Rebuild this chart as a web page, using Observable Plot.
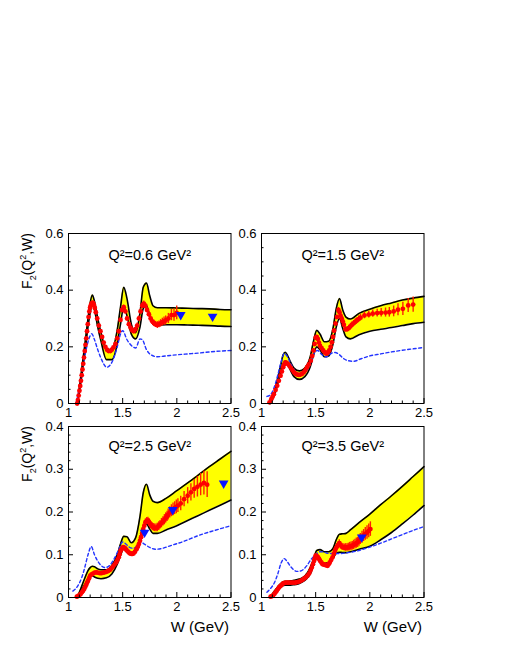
<!DOCTYPE html>
<html><head><meta charset="utf-8">
<script src="https://cdn.jsdelivr.net/npm/d3@7"></script>
<script src="https://cdn.jsdelivr.net/npm/@observablehq/plot@0.6"></script>
<style>
body{margin:0;background:#fff;}
#root{position:relative;width:507px;height:656px;overflow:hidden;font-family:"Liberation Sans",Arial,Helvetica,sans-serif;}
.lab{position:absolute;font-size:14px;color:#000;white-space:nowrap;line-height:1;}
.lab sub,.lab sup{font-size:9px;line-height:0;}
</style></head><body><div id="root"></div>
<script>
// ---------- tick labels ----------
const xTicks = [1, 1.5, 2, 2.5];
const xMinorTicks = [1.1,1.2,1.3,1.4,1.6,1.7,1.8,1.9,2.1,2.2,2.3,2.4];
const yTicksTop = [0, 0.2, 0.4, 0.6];
const yMinorTop = [0.05,0.1,0.15,0.25,0.3,0.35,0.45,0.5,0.55];
const yTicksBottom = [0, 0.1, 0.2, 0.3, 0.4];
const yMinorBottom = [0.02,0.04,0.06,0.08,0.12,0.14,0.16,0.18,0.22,0.24,0.26,0.28,0.32,0.34,0.36,0.38];
const titles = ["Q²=0.6 GeV²", "Q²=1.5 GeV²", "Q²=2.5 GeV²", "Q²=3.5 GeV²"];

// ---------- band (model uncertainty) ----------
const bandW = [1.08,1.10,1.12,1.15,1.18,1.20,1.22,1.24,1.27,1.30,1.35,1.40,1.45,1.48,1.51,1.54,1.58,1.62,1.66,1.69,1.72,1.75,1.78,1.82,1.90,2.00,2.10,2.20,2.30,2.40,2.50];
const q06Upper = [0,0.055,0.115,0.205,0.30,0.355,0.383,0.36,0.30,0.25,0.19,0.19,0.26,0.34,0.41,0.37,0.28,0.25,0.32,0.41,0.425,0.38,0.345,0.338,0.338,0.337,0.336,0.335,0.334,0.332,0.331];
const q06Lower = [0,0.04,0.09,0.175,0.27,0.32,0.35,0.33,0.27,0.22,0.155,0.155,0.21,0.28,0.34,0.31,0.245,0.228,0.27,0.335,0.345,0.31,0.28,0.277,0.278,0.278,0.277,0.276,0.275,0.273,0.272];
const q15Upper = [0,0.02,0.04,0.09,0.14,0.172,0.181,0.17,0.145,0.125,0.115,0.125,0.165,0.22,0.258,0.245,0.218,0.22,0.265,0.335,0.37,0.33,0.305,0.298,0.318,0.333,0.345,0.355,0.365,0.372,0.378];
const q15Lower = [0,0.015,0.03,0.07,0.115,0.14,0.15,0.14,0.115,0.095,0.085,0.095,0.13,0.17,0.20,0.19,0.165,0.168,0.21,0.27,0.30,0.265,0.235,0.228,0.243,0.255,0.262,0.268,0.275,0.282,0.287];
const q25Upper = [0,0.012,0.025,0.045,0.063,0.07,0.073,0.072,0.067,0.065,0.065,0.075,0.10,0.125,0.143,0.142,0.128,0.14,0.19,0.245,0.265,0.24,0.225,0.222,0.232,0.25,0.268,0.287,0.306,0.324,0.342];
const q25Lower = [0,0.008,0.018,0.03,0.043,0.05,0.051,0.048,0.045,0.044,0.046,0.055,0.078,0.098,0.115,0.11,0.10,0.11,0.14,0.165,0.172,0.16,0.15,0.15,0.158,0.168,0.18,0.192,0.204,0.216,0.228];
const q35Upper = [0,0.008,0.015,0.025,0.033,0.037,0.038,0.038,0.039,0.04,0.043,0.05,0.07,0.09,0.11,0.112,0.107,0.107,0.115,0.135,0.148,0.149,0.15,0.158,0.175,0.195,0.217,0.238,0.26,0.283,0.306];
const q35Lower = [0,0.006,0.012,0.02,0.026,0.028,0.029,0.029,0.029,0.03,0.033,0.04,0.055,0.075,0.092,0.088,0.08,0.082,0.092,0.103,0.106,0.105,0.105,0.107,0.113,0.12,0.135,0.152,0.172,0.193,0.215];

// ---------- blue dashed model curves ----------
const q06ModelW = [1.07,1.10,1.13,1.16,1.19,1.215,1.24,1.27,1.30,1.354,1.40,1.45,1.48,1.50,1.54,1.58,1.62,1.66,1.68,1.72,1.76,1.82,1.90,2.00,2.10,2.20,2.30,2.40,2.50];
const q06ModelF = [0.0,0.055,0.12,0.185,0.23,0.246,0.225,0.19,0.16,0.128,0.145,0.20,0.245,0.257,0.225,0.205,0.196,0.228,0.226,0.19,0.172,0.165,0.168,0.172,0.175,0.178,0.182,0.185,0.187];
const q15ModelW = [1.05,1.08,1.12,1.15,1.18,1.21,1.24,1.27,1.30,1.35,1.40,1.45,1.49,1.52,1.55,1.60,1.65,1.68,1.72,1.76,1.80,1.85,1.92,2.00,2.10,2.20,2.30,2.40,2.50];
const q15ModelF = [0.025,0.03,0.06,0.10,0.145,0.177,0.165,0.14,0.12,0.104,0.11,0.14,0.18,0.187,0.175,0.165,0.178,0.18,0.172,0.158,0.151,0.149,0.158,0.168,0.175,0.182,0.188,0.193,0.198];
const q25ModelW = [1.04,1.08,1.12,1.15,1.18,1.21,1.24,1.27,1.30,1.34,1.38,1.42,1.46,1.50,1.53,1.56,1.60,1.64,1.67,1.70,1.75,1.80,1.85,1.95,2.05,2.20,2.35,2.50];
const q25ModelF = [0.015,0.025,0.045,0.07,0.10,0.119,0.10,0.085,0.075,0.07,0.075,0.09,0.11,0.13,0.125,0.118,0.115,0.122,0.129,0.125,0.117,0.113,0.114,0.122,0.13,0.145,0.157,0.168];
const q35ModelW = [1.05,1.08,1.12,1.15,1.18,1.21,1.24,1.27,1.30,1.33,1.37,1.42,1.46,1.50,1.54,1.58,1.62,1.68,1.73,1.80,1.90,2.00,2.10,2.20,2.30,2.40,2.50];
const q35ModelF = [0.012,0.02,0.035,0.055,0.08,0.091,0.083,0.072,0.064,0.061,0.063,0.075,0.09,0.10,0.107,0.106,0.103,0.103,0.103,0.105,0.11,0.118,0.127,0.137,0.147,0.157,0.166];

// ---------- measured points (red) ----------
const q06DataW = [1.080,1.087,1.094,1.101,1.108,1.115,1.122,1.129,1.136,1.143,1.150,1.157,1.164,1.171,1.178,1.185,1.192,1.199,1.206,1.213,1.220,1.227,1.235,1.243,1.252,1.265,1.280,1.295,1.310,1.325,1.340,1.355,1.370,1.387,1.400,1.415,1.433,1.450,1.464,1.480,1.495,1.510,1.525,1.541,1.557,1.572,1.588,1.603,1.618,1.634,1.650,1.665,1.680,1.695,1.710,1.725,1.742,1.758,1.773,1.790,1.804,1.820,1.835,1.850,1.866,1.882,1.897,1.922,1.950,1.974,1.999];
const q06DataF = [0.000,0.012,0.028,0.045,0.062,0.080,0.100,0.120,0.140,0.162,0.185,0.207,0.230,0.255,0.280,0.305,0.325,0.338,0.347,0.352,0.355,0.355,0.348,0.337,0.322,0.300,0.275,0.255,0.235,0.215,0.200,0.190,0.185,0.185,0.190,0.198,0.210,0.230,0.255,0.295,0.330,0.340,0.325,0.300,0.280,0.268,0.258,0.255,0.262,0.275,0.300,0.325,0.345,0.352,0.345,0.330,0.315,0.300,0.290,0.283,0.279,0.277,0.279,0.283,0.287,0.290,0.293,0.300,0.312,0.312,0.320];
const q06DataE = [0.003,0.003,0.003,0.003,0.003,0.004,0.004,0.004,0.004,0.004,0.004,0.005,0.005,0.005,0.005,0.005,0.005,0.005,0.005,0.006,0.006,0.006,0.006,0.006,0.006,0.006,0.006,0.006,0.006,0.006,0.006,0.006,0.006,0.006,0.006,0.006,0.007,0.007,0.007,0.007,0.008,0.008,0.008,0.008,0.008,0.008,0.008,0.008,0.008,0.009,0.009,0.009,0.010,0.010,0.010,0.010,0.010,0.010,0.011,0.011,0.011,0.012,0.012,0.013,0.014,0.015,0.016,0.018,0.020,0.022,0.024];

const q15DataW = [1.074,1.090,1.102,1.114,1.130,1.145,1.160,1.176,1.188,1.200,1.210,1.220,1.232,1.245,1.257,1.270,1.285,1.300,1.315,1.330,1.345,1.360,1.375,1.390,1.405,1.420,1.437,1.455,1.468,1.480,1.490,1.500,1.510,1.520,1.530,1.540,1.555,1.570,1.585,1.600,1.613,1.625,1.638,1.650,1.660,1.670,1.683,1.696,1.710,1.720,1.730,1.740,1.750,1.760,1.775,1.790,1.805,1.820,1.835,1.850,1.865,1.880,1.897,1.914,1.950,1.990,2.027,2.068,2.105,2.145,2.180,2.220,2.260,2.305,2.354,2.400];
const q15DataF = [0.004,0.015,0.024,0.033,0.048,0.063,0.080,0.098,0.113,0.128,0.138,0.145,0.143,0.139,0.133,0.126,0.118,0.110,0.105,0.102,0.101,0.102,0.105,0.110,0.118,0.128,0.138,0.151,0.168,0.187,0.210,0.232,0.235,0.228,0.215,0.204,0.195,0.187,0.180,0.176,0.180,0.187,0.200,0.216,0.235,0.257,0.282,0.305,0.330,0.322,0.310,0.300,0.290,0.278,0.262,0.262,0.266,0.272,0.278,0.283,0.288,0.293,0.298,0.303,0.311,0.314,0.317,0.319,0.320,0.321,0.322,0.325,0.331,0.334,0.346,0.349];
const q15DataE = [0.003,0.003,0.003,0.003,0.003,0.004,0.004,0.004,0.004,0.004,0.004,0.004,0.004,0.004,0.004,0.004,0.004,0.004,0.004,0.004,0.004,0.004,0.004,0.005,0.005,0.005,0.005,0.005,0.006,0.006,0.006,0.006,0.006,0.006,0.006,0.006,0.006,0.006,0.006,0.006,0.007,0.007,0.007,0.007,0.008,0.008,0.008,0.008,0.009,0.009,0.009,0.009,0.009,0.009,0.009,0.009,0.009,0.009,0.010,0.010,0.010,0.010,0.011,0.011,0.012,0.012,0.013,0.014,0.015,0.016,0.017,0.019,0.021,0.023,0.025,0.027];

const q25DataW = [1.077,1.090,1.100,1.112,1.124,1.135,1.145,1.155,1.164,1.172,1.180,1.190,1.200,1.213,1.226,1.241,1.257,1.272,1.288,1.304,1.320,1.335,1.350,1.365,1.380,1.395,1.410,1.425,1.440,1.452,1.464,1.472,1.480,1.490,1.500,1.508,1.517,1.526,1.535,1.546,1.557,1.568,1.580,1.590,1.600,1.614,1.628,1.640,1.650,1.660,1.670,1.680,1.690,1.700,1.710,1.722,1.733,1.742,1.750,1.762,1.773,1.784,1.795,1.808,1.820,1.833,1.845,1.858,1.872,1.885,1.897,1.910,1.920,1.935,1.950,1.965,1.980,1.995,2.010,2.036,2.067,2.100,2.130,2.160,2.190,2.220,2.250,2.280];
const q25DataF = [0.002,0.004,0.005,0.008,0.012,0.016,0.020,0.025,0.030,0.035,0.039,0.045,0.051,0.054,0.056,0.058,0.059,0.058,0.057,0.057,0.058,0.059,0.060,0.062,0.064,0.068,0.072,0.077,0.082,0.088,0.094,0.101,0.109,0.113,0.117,0.117,0.116,0.114,0.111,0.108,0.105,0.103,0.102,0.102,0.103,0.107,0.113,0.119,0.125,0.133,0.141,0.150,0.160,0.168,0.176,0.179,0.180,0.177,0.173,0.169,0.166,0.164,0.163,0.163,0.164,0.167,0.170,0.174,0.178,0.182,0.186,0.190,0.194,0.199,0.203,0.206,0.209,0.212,0.215,0.220,0.230,0.238,0.246,0.254,0.259,0.264,0.268,0.264];
const q25DataE = [0.002,0.002,0.002,0.002,0.002,0.002,0.002,0.002,0.003,0.003,0.003,0.003,0.003,0.003,0.003,0.003,0.003,0.003,0.003,0.003,0.003,0.003,0.003,0.003,0.003,0.003,0.004,0.004,0.004,0.004,0.004,0.004,0.004,0.005,0.005,0.005,0.005,0.005,0.005,0.005,0.005,0.005,0.005,0.005,0.005,0.006,0.006,0.006,0.006,0.006,0.007,0.007,0.007,0.007,0.008,0.008,0.008,0.008,0.008,0.008,0.009,0.009,0.009,0.009,0.010,0.010,0.010,0.011,0.011,0.012,0.012,0.012,0.013,0.013,0.014,0.015,0.015,0.016,0.016,0.017,0.018,0.019,0.020,0.022,0.024,0.026,0.028,0.030];

const q35DataW = [1.084,1.096,1.108,1.120,1.130,1.141,1.152,1.164,1.176,1.188,1.200,1.213,1.226,1.240,1.254,1.270,1.285,1.300,1.315,1.330,1.346,1.362,1.377,1.392,1.408,1.424,1.440,1.452,1.464,1.475,1.486,1.493,1.500,1.512,1.523,1.532,1.540,1.552,1.563,1.574,1.585,1.597,1.610,1.620,1.630,1.643,1.656,1.667,1.677,1.686,1.696,1.707,1.718,1.729,1.740,1.752,1.764,1.777,1.790,1.801,1.813,1.826,1.838,1.850,1.863,1.875,1.888,1.900,1.912,1.928,1.943,1.958,1.974,1.990,2.005];
const q35DataF = [0.002,0.003,0.005,0.009,0.012,0.016,0.020,0.024,0.027,0.030,0.033,0.034,0.035,0.035,0.035,0.035,0.035,0.035,0.035,0.036,0.037,0.039,0.041,0.044,0.047,0.051,0.056,0.063,0.070,0.078,0.086,0.092,0.098,0.097,0.094,0.090,0.086,0.082,0.078,0.077,0.077,0.075,0.074,0.078,0.082,0.088,0.094,0.102,0.109,0.114,0.119,0.123,0.127,0.123,0.119,0.118,0.117,0.117,0.117,0.118,0.119,0.120,0.121,0.123,0.125,0.127,0.129,0.133,0.137,0.141,0.145,0.149,0.152,0.156,0.160];
const q35DataE = [0.002,0.002,0.002,0.002,0.002,0.002,0.002,0.002,0.002,0.002,0.002,0.002,0.002,0.002,0.002,0.002,0.002,0.002,0.003,0.003,0.003,0.003,0.003,0.003,0.003,0.003,0.003,0.004,0.004,0.004,0.004,0.004,0.004,0.004,0.004,0.004,0.004,0.005,0.005,0.005,0.005,0.005,0.005,0.005,0.006,0.006,0.006,0.006,0.007,0.007,0.007,0.007,0.008,0.008,0.008,0.008,0.008,0.009,0.009,0.009,0.010,0.010,0.010,0.011,0.011,0.012,0.012,0.013,0.013,0.014,0.014,0.015,0.016,0.016,0.017];

// ---------- other measurements (blue triangles) ----------
const q06TriW = [2.036, 2.33];
const q06TriF = [0.313, 0.307];
const q15TriW = [];
const q15TriF = [];
const q25TriW = [1.702, 1.962, 2.432];
const q25TriF = [0.152, 0.205, 0.267];
const q35TriW = [1.925];
const q35TriF = [0.141];

// ---------- build ----------
const FONT = '"Liberation Sans", Arial, Helvetica, sans-serif';
const root = document.getElementById("root");
const FW = 162.5;
const mL = 40, mR = 10, mT = 8, mB = 24;

const panels = [
  {title: titles[0], upper: q06Upper, lower: q06Lower, mW: q06ModelW, mF: q06ModelF, dW: q06DataW, dF: q06DataF, dE: q06DataE, tW: q06TriW, tF: q06TriF, yMax: 0.6, yT: yTicksTop, yM: yMinorTop, left: 68, top: 233, fh: 170, dy: 16},
  {title: titles[1], upper: q15Upper, lower: q15Lower, mW: q15ModelW, mF: q15ModelF, dW: q15DataW, dF: q15DataF, dE: q15DataE, tW: q15TriW, tF: q15TriF, yMax: 0.6, yT: yTicksTop, yM: yMinorTop, left: 261, top: 233, fh: 170, dy: 16},
  {title: titles[2], upper: q25Upper, lower: q25Lower, mW: q25ModelW, mF: q25ModelF, dW: q25DataW, dF: q25DataF, dE: q25DataE, tW: q25TriW, tF: q25TriF, yMax: 0.4, yT: yTicksBottom, yM: yMinorBottom, left: 68, top: 426, fh: 171, dy: 14},
  {title: titles[3], upper: q35Upper, lower: q35Lower, mW: q35ModelW, mF: q35ModelF, dW: q35DataW, dF: q35DataF, dE: q35DataE, tW: q35TriW, tF: q35TriF, yMax: 0.4, yT: yTicksBottom, yM: yMinorBottom, left: 261, top: 426, fh: 171, dy: 14}
];

const fmt = d => String(d);

for (const p of panels) {
  const band = bandW.map((w, i) => ({w, lo: p.lower[i], hi: p.upper[i]}));
  const model = p.mW.map((w, i) => ({w, f: p.mF[i]}));
  const data = p.dW.map((w, i) => ({w, f: p.dF[i], e: p.dE[i]}));
  const tri = p.tW.map((w, i) => ({w, f: p.tF[i]}));
  const fh = p.fh;
  const chart = Plot.plot({
    width: mL + FW + mR,
    height: mT + fh + mB,
    marginLeft: mL, marginRight: mR, marginTop: mT, marginBottom: mB,
    style: {fontFamily: FONT, fontSize: "13px", color: "#000", background: "transparent", overflow: "visible"},
    x: {domain: [1, 2.5]},
    y: {domain: [0, p.yMax]},
    marks: [
      Plot.areaY(band, {x: "w", y1: "lo", y2: "hi", fill: "#ffff00", curve: "monotone-x"}),
      Plot.line(band, {x: "w", y: "hi", stroke: "#000", strokeWidth: 1.6, curve: "monotone-x"}),
      Plot.line(band, {x: "w", y: "lo", stroke: "#000", strokeWidth: 1.6, curve: "monotone-x"}),
      Plot.line(model, {x: "w", y: "f", stroke: "#2233ff", strokeWidth: 1.4, strokeDasharray: "3,2.5", curve: "monotone-x"}),
      Plot.ruleX(data, {x: "w", y1: d => d.f - d.e, y2: d => d.f + d.e, stroke: "#ff2200", strokeWidth: 1.4}),
      Plot.dot(data, {x: "w", y: "f", r: 2.4, fill: "#ff0000", stroke: null}),
      Plot.dot(tri, {x: "w", y: "f", symbol: "triangle", rotate: 180, r: 3.6, fill: "#0a14ff", stroke: null}),
      Plot.tickX(xMinorTicks, {x: d => d, stroke: "#000", insetTop: fh - 2.5}),
      Plot.tickX(xTicks, {x: d => d, stroke: "#000", insetTop: fh - 5}),
      Plot.tickY(p.yM, {y: d => d, stroke: "#000", insetRight: FW - 2.5}),
      Plot.tickY(p.yT, {y: d => d, stroke: "#000", insetRight: FW - 5}),
      Plot.frame({stroke: "#000", strokeWidth: 1}),
      Plot.axisX({ticks: xTicks, tickSize: 0, tickPadding: 4, tickFormat: fmt, label: null, fontSize: 13}),
      Plot.axisY({ticks: p.yT, tickSize: 0, tickPadding: 5, tickFormat: fmt, label: null, fontSize: 13}),
      Plot.text([p.title], {text: d => d, frameAnchor: "top", dy: p.dy, fontSize: 14.5, fill: "#000"})
    ]
  });
  chart.style.position = "absolute";
  chart.style.left = (p.left - mL) + "px";
  chart.style.top = (p.top - mT) + "px";
  root.appendChild(chart);
}

// axis titles (HTML text)
function addLabel(html, css) {
  const d = document.createElement("div");
  d.className = "lab";
  d.innerHTML = html;
  Object.assign(d.style, css);
  root.appendChild(d);
}
const yLabel = 'F<sub>2</sub>(Q<sup>2</sup>,W)';
for (const top of [233, 426]) {
  addLabel(yLabel, {left: "20px", top: top + "px", transformOrigin: "0 0", transform: "rotate(-90deg) translate(-100%, 0)"});
}
for (const right of [229, 422]) {
  addLabel("W (GeV)", {right: (507 - right) + "px", top: "619px", fontSize: "15px"});
}
</script></body></html>
